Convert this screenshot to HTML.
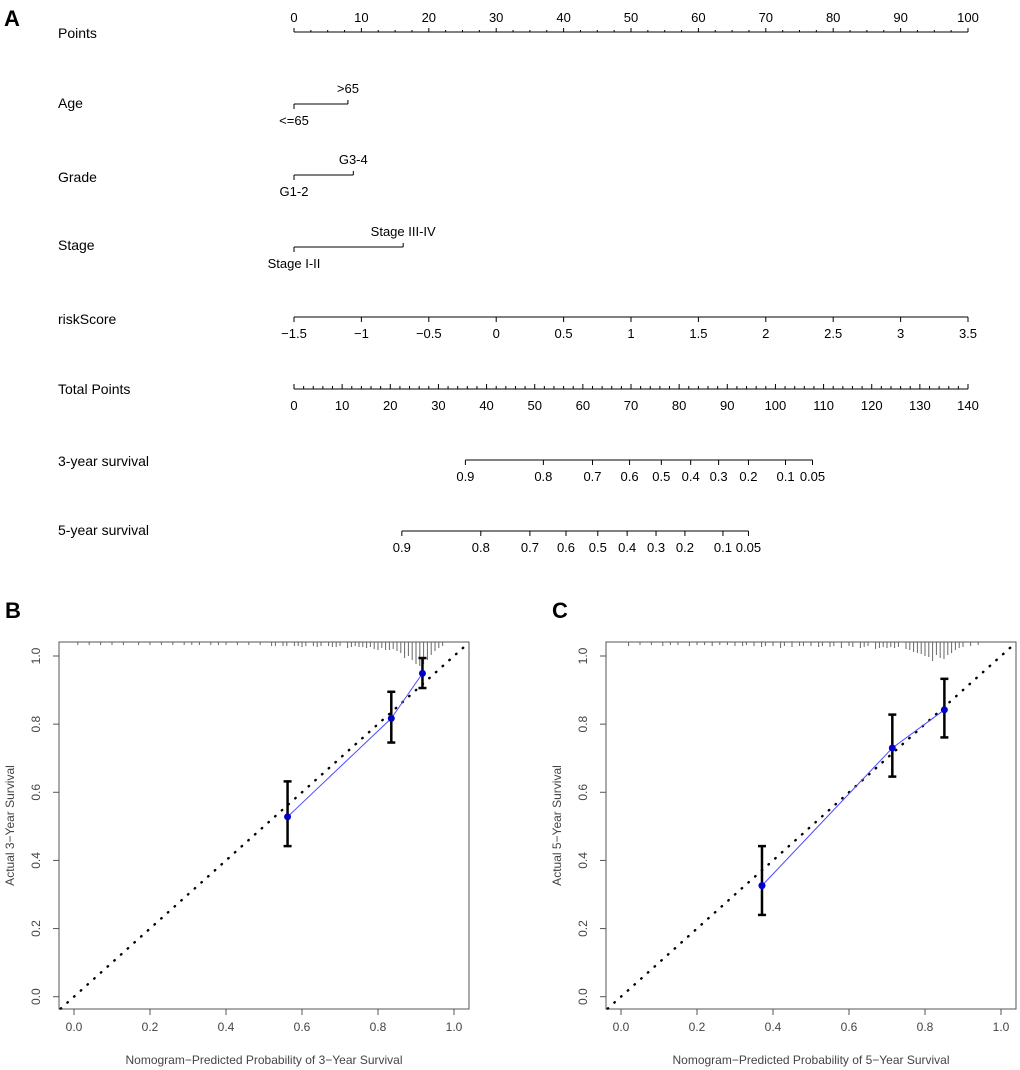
<!DOCTYPE html>
<html><head><meta charset="utf-8"><style>
html,body{margin:0;padding:0;background:#fff;}
svg{display:block;font-family:"Liberation Sans",Arial,sans-serif;}
</style></head><body>
<svg id="fig" width="1020" height="1070" viewBox="0 0 1020 1070">
<g id="nomo"></g>
<g id="calB"></g>
<g id="calC"></g>
</svg>
<script>
// ---- Nomogram data ----
const pointsTicks = [0,10,20,30,40,50,60,70,80,90,100];
const ageLevels = ["<=65", ">65"];
const agePoints = [0, 8];
const gradeLevels = ["G1-2", "G3-4"];
const gradePoints = [0, 8.8];
const stageLevels = ["Stage I-II", "Stage III-IV"];
const stagePoints = [0, 16.2];
const riskTicks = [-1.5,-1,-0.5,0,0.5,1,1.5,2,2.5,3,3.5];
const totalTicks = [0,10,20,30,40,50,60,70,80,90,100,110,120,130,140];
const surv3Labels = ["0.9","0.8","0.7","0.6","0.5","0.4","0.3","0.2","0.1","0.05"];
const surv3TotalPts = [35.6,51.8,62.0,69.7,76.3,82.4,88.2,94.4,102.1,107.7];
const surv5Labels = ["0.9","0.8","0.7","0.6","0.5","0.4","0.3","0.2","0.1","0.05"];
const surv5TotalPts = [22.4,38.8,49.0,56.5,63.1,69.2,75.2,81.2,89.1,94.4];

// ---- Calibration data ----
const predB = [0.562, 0.835, 0.917];
const obsB = [0.528, 0.817, 0.949];
const loB = [0.442, 0.746, 0.906];
const hiB = [0.632, 0.895, 0.994];
const rugXB = [0.01,0.04,0.07,0.10,0.13,0.17,0.20,0.23,0.26,0.29,0.31,0.33,0.36,0.38,0.40,0.43,0.46,0.49,0.52,0.53,0.55,0.56,0.58,0.59,0.60,0.61,0.63,0.64,0.65,0.67,0.68,0.69,0.70,0.72,0.73,0.74,0.75,0.76,0.77,0.78,0.79,0.80,0.81,0.82,0.83,0.84,0.85,0.86,0.87,0.88,0.89,0.90,0.91,0.92,0.93,0.94,0.95,0.96,0.97];
const rugHB = [1,1,1,1,1,1,1,1,1,1,1,1,1,1,1,1,1,1,2,2,2,2,2,2,3,2,2,3,2,2,3,3,2,4,3,2,3,3,4,3,5,6,4,6,6,5,7,9,14,12,16,20,22,20,16,11,7,4,2];
const predC = [0.371, 0.714, 0.851];
const obsC = [0.326, 0.730, 0.842];
const loC = [0.240, 0.646, 0.761];
const hiC = [0.442, 0.828, 0.933];
const rugXC = [0.02,0.05,0.08,0.11,0.13,0.15,0.18,0.20,0.22,0.24,0.26,0.28,0.30,0.32,0.33,0.35,0.37,0.38,0.40,0.42,0.43,0.45,0.47,0.48,0.50,0.52,0.53,0.55,0.56,0.58,0.60,0.61,0.63,0.64,0.65,0.67,0.68,0.69,0.70,0.71,0.72,0.73,0.75,0.76,0.77,0.78,0.79,0.80,0.81,0.82,0.83,0.84,0.85,0.86,0.87,0.88,0.89,0.90,0.92,0.94];
const rugHC = [2,1,1,2,1,1,2,1,1,2,1,1,2,2,1,2,3,2,2,4,2,3,2,2,2,3,2,3,2,4,2,3,4,3,2,5,4,3,4,3,4,3,5,6,8,9,10,12,13,17,11,14,15,11,9,6,4,3,2,1];

const NS="http://www.w3.org/2000/svg";
function mk(parent, tag, attrs, text){
  const e=document.createElementNS(NS,tag);
  for(const k in attrs) e.setAttribute(k,attrs[k]);
  if(text!==undefined) e.textContent=text;
  parent.appendChild(e); return e;
}
// ---- Nomogram ----
const nomo=document.getElementById('nomo');
const X0=294, X1=968;
const px=p=>X0+(p/100)*(X1-X0);
const tx=t=>X0+(t/140)*(X1-X0);
const rx=r=>X0+((r+1.5)/5)*(X1-X0);
const ln={stroke:"#000","stroke-width":1};
const FS=13;

let t=mk(nomo,'text',{x:4,y:26,"font-size":22,"font-weight":"bold"},"A");



const rows=[["Points",38],["Age",108],["Grade",182],["Stage",250],["riskScore",324],["Total Points",394],["3-year survival",466],["5-year survival",535]];
rows.forEach(r=>{
  const e=mk(nomo,'text',{x:58,y:r[1],"font-size":14},r[0]);
  
  
});
let a=mk(nomo,'line',Object.assign({x1:px(0),x2:px(100),y1:32,y2:32},ln));


for(let v=0;v<=100;v+=2.5){const maj=v%10===0; mk(nomo,'line',Object.assign({x1:px(v),x2:px(v),y1:32,y2:maj?28:30},ln));}
pointsTicks.forEach(v=>{const e=mk(nomo,'text',{x:px(v),y:22,"font-size":FS,"text-anchor":"middle"},v);
  
  });
function catRow(levels,pts,y,name){
  const g=mk(nomo,'g',{});
  
  
  mk(g,'line',Object.assign({x1:px(pts[0]),x2:px(pts[1]),y1:y,y2:y},ln));
  mk(g,'line',Object.assign({x1:px(pts[0]),x2:px(pts[0]),y1:y,y2:y+5},ln));
  mk(g,'line',Object.assign({x1:px(pts[1]),x2:px(pts[1]),y1:y,y2:y-4},ln));
  mk(g,'text',{x:px(pts[0]),y:y+21,"font-size":FS,"text-anchor":"middle"},levels[0]);
  mk(g,'text',{x:px(pts[1]),y:y-11,"font-size":FS,"text-anchor":"middle"},levels[1]);
}
catRow(ageLevels,agePoints,104,'age-scale');
catRow(gradeLevels,gradePoints,175,'grade-scale');
catRow(stageLevels,stagePoints,247,'stage-scale');
a=mk(nomo,'line',Object.assign({x1:rx(-1.5),x2:rx(3.5),y1:317,y2:317},ln));


riskTicks.forEach(v=>{mk(nomo,'line',Object.assign({x1:rx(v),x2:rx(v),y1:317,y2:322},ln));
  const e=mk(nomo,'text',{x:rx(v),y:338,"font-size":FS,"text-anchor":"middle"},v<0?"\u2212"+Math.abs(v):v);
  
  });
a=mk(nomo,'line',Object.assign({x1:tx(0),x2:tx(140),y1:389,y2:389},ln));


for(let v=0;v<=140;v+=2){const maj=v%10===0; mk(nomo,'line',Object.assign({x1:tx(v),x2:tx(v),y1:389,y2:maj?384:386},ln));}
totalTicks.forEach(v=>{const e=mk(nomo,'text',{x:tx(v),y:410,"font-size":FS,"text-anchor":"middle"},v);
  
  });
function survAxis(labels,pts,y,name){
  const g=mk(nomo,'g',{});
  
  
  mk(g,'line',Object.assign({x1:tx(pts[0]),x2:tx(pts[pts.length-1]),y1:y,y2:y},ln));
  pts.forEach((p,i)=>{mk(g,'line',Object.assign({x1:tx(p),x2:tx(p),y1:y,y2:y+5},ln));
    mk(g,'text',{x:tx(p),y:y+21,"font-size":FS,"text-anchor":"middle"},labels[i]);});
}
survAxis(surv3Labels,surv3TotalPts,460,'3-year-survival-axis');
survAxis(surv5Labels,surv5TotalPts,531,'5-year-survival-axis');

// ---- Calibration plots ----
function calib(gid,letter,off,pred,obs,lo,hi,rugX,rugH,yr){
  const g=document.getElementById(gid);
  const bx0=59+off,bx1=469+off,by0=642,by1=1009;
  const sx=v=>74+off+v*380;
  const sy=v=>996.7-v*340.7;
  const gray="#555";
  let e=mk(g,'text',{x:off+5,y:618,"font-size":22,"font-weight":"bold"},letter);
  
  
  e=mk(g,'rect',{x:bx0,y:by0,width:bx1-bx0,height:by1-by0,fill:"none",stroke:gray,"stroke-width":1});
  
  
  [0,0.2,0.4,0.6,0.8,1.0].forEach(v=>{
    mk(g,'line',{x1:sx(v),x2:sx(v),y1:by1,y2:by1+6,stroke:gray});
    const lx=mk(g,'text',{x:sx(v),y:1031,"font-size":12,fill:"#444","text-anchor":"middle"},v.toFixed(1));
    
    
    mk(g,'line',{x1:bx0,x2:bx0-6,y1:sy(v),y2:sy(v),stroke:gray});
    const ly=mk(g,'text',{x:0,y:0,"font-size":12,fill:"#444","text-anchor":"middle",transform:`translate(${bx0-19},${sy(v)}) rotate(-90)`},v.toFixed(1));
    
    
  });
  e=mk(g,'text',{x:(bx0+bx1)/2,y:1064,"font-size":12,fill:"#444","text-anchor":"middle"},`Nomogram\u2212Predicted Probability of ${yr}\u2212Year Survival`);
  
  
  e=mk(g,'text',{x:0,y:0,"font-size":12,fill:"#444","text-anchor":"middle",transform:`translate(${off+14},${(by0+by1)/2}) rotate(-90)`},`Actual ${yr}\u2212Year Survival`);
  
  
  rugX.forEach((v,i)=>{const r=mk(g,'line',{x1:sx(v),x2:sx(v),y1:by0,y2:by0+2+rugH[i],stroke:"#666","stroke-width":1});
    
    });
  e=mk(g,'line',{x1:sx(-0.035),y1:sy(-0.035),x2:sx(1.035),y2:sy(1.035),stroke:"#000","stroke-width":2.4,"stroke-dasharray":"0.5 8.5","stroke-linecap":"round"});
  
  
  e=mk(g,'polyline',{points:pred.map((p,i)=>sx(p)+","+sy(obs[i])).join(" "),fill:"none",stroke:"#4a4aff","stroke-width":1});
  
  
  pred.forEach((p,i)=>{
    const eb=mk(g,'g',{stroke:"#000","stroke-width":2.5});
    
    
    mk(eb,'line',{x1:sx(p),x2:sx(p),y1:sy(lo[i]),y2:sy(hi[i])});
    mk(eb,'line',{x1:sx(p)-4,x2:sx(p)+4,y1:sy(lo[i]),y2:sy(lo[i])});
    mk(eb,'line',{x1:sx(p)-4,x2:sx(p)+4,y1:sy(hi[i]),y2:sy(hi[i])});
    const c=mk(g,'circle',{cx:sx(p),cy:sy(obs[i]),r:3.5,fill:"#0000cc"});
    
    
  });
}
calib('calB','B',0,predB,obsB,loB,hiB,rugXB,rugHB,3);
calib('calC','C',547,predC,obsC,loC,hiC,rugXC,rugHC,5);
</script>
</body></html>
